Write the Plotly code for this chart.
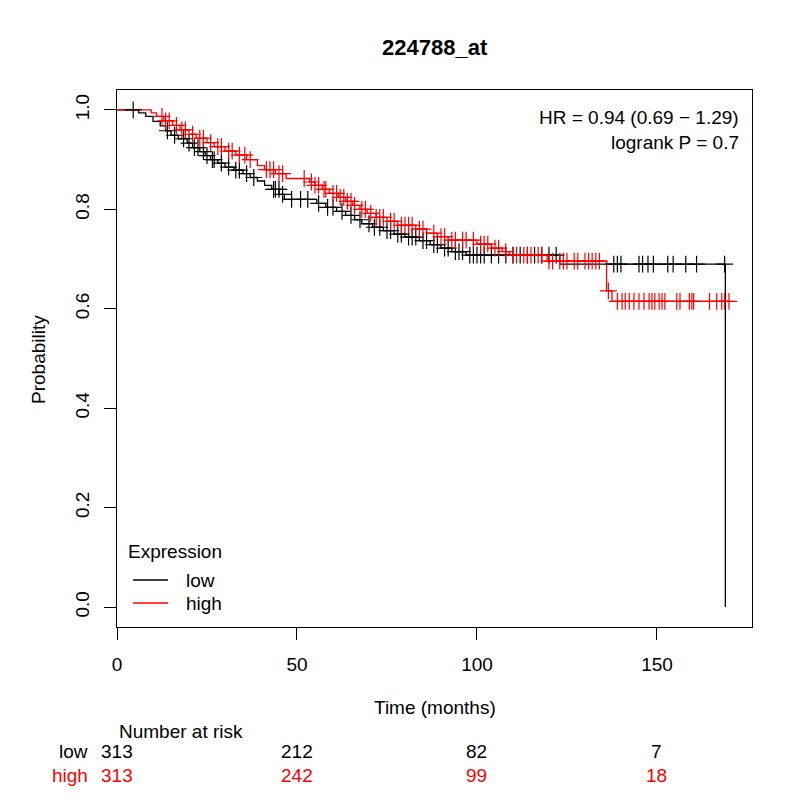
import numpy as np
import plotly.graph_objects as go

# Kaplan-Meier steps (time in months, survival after the step)
low_time = [6.0, 8.0, 10.0, 12.0, 13.5, 15.0, 17.0, 19.5, 21.0, 23.0, 24.5, 26.0, 28.0,
            30.0, 32.5, 35.0, 37.0, 39.0, 41.0, 43.0, 45.0, 46.5, 55.5, 58.0, 61.0,
            63.5, 66.0, 68.0, 71.0, 74.0, 77.0, 80.0, 84.0, 87.0, 90.0, 93.0, 97.0,
            123.0, 169.0]
low_surv = [0.994, 0.987, 0.977, 0.968, 0.958, 0.949, 0.942, 0.933, 0.924, 0.916, 0.908,
            0.900, 0.893, 0.885, 0.879, 0.872, 0.864, 0.857, 0.848, 0.840, 0.830, 0.820,
            0.812, 0.804, 0.796, 0.788, 0.779, 0.771, 0.764, 0.757, 0.750, 0.744, 0.737,
            0.729, 0.722, 0.715, 0.708, 0.690, 0.0]
low_censor = [4.5, 14, 16, 18.5, 20, 21.5, 22.5, 24, 25, 26.5, 27, 29, 31, 33, 34, 36, 38,
              43.5, 44, 45, 46, 48.5, 51, 53, 56, 58.5, 60, 62.5, 65, 67.5, 70, 71.5, 73,
              75, 76, 78, 79, 81, 82, 83, 85, 86, 88, 89, 91, 92, 94, 95, 96, 98, 99, 100,
              101, 102, 104, 106, 108, 110, 112, 114, 116, 118, 120, 122, 138, 139, 140,
              145, 146, 147.5, 149, 153, 154.5, 158, 161, 168.8]

high_time = [9.5, 11.0, 13.0, 15.5, 17.5, 20.0, 22.0, 25.0, 27.0, 30.0, 33.0, 36.0, 39.0,
             41.0, 44.0, 47.0, 53.5, 55.0, 57.0, 59.0, 61.5, 63.5, 65.5, 67.5, 69.5, 72.0,
             75.0, 78.0, 83.0, 86.0, 89.0, 92.0, 100.0, 104.0, 107.0, 109.0, 119.5, 136.0,
             137.5]
high_surv = [0.994, 0.987, 0.978, 0.969, 0.960, 0.951, 0.943, 0.934, 0.926, 0.917, 0.909,
             0.900, 0.888, 0.880, 0.872, 0.862, 0.855, 0.848, 0.840, 0.832, 0.824, 0.816,
             0.808, 0.800, 0.792, 0.784, 0.776, 0.768, 0.760, 0.752, 0.745, 0.738, 0.730,
             0.722, 0.715, 0.708, 0.696, 0.636, 0.615]
high_censor = [12.5, 13.5, 14.5, 16.5, 18, 19, 21, 23, 24, 26, 28, 29, 31, 32, 34, 35.5, 37,
               41.5, 42.5, 43.5, 45, 46, 52, 54, 55, 56, 57.5, 58, 60, 61, 62, 63, 64, 65,
               66, 68, 69, 70.5, 72, 73, 74, 76, 77, 79, 80, 81, 82, 84, 85, 88, 90, 91, 93,
               94, 96, 97, 99, 101, 102, 103, 105, 106, 108, 110, 111, 113, 114, 115, 117,
               118, 120, 121, 123, 124, 125, 127, 128, 130, 131, 132, 133, 134, 136.5, 139,
               140.3, 141.2, 142.3, 143.6, 145, 146.4, 147.8, 148.6, 149.4, 150.6, 151.4,
               152.2, 155.5, 156.4, 159, 159.7, 160.2, 164.6, 166.6, 168, 168.8, 170]
high_end = 170.0

risk_times = [0, 50, 100, 150]
risk_low = [313, 212, 82, 7]
risk_high = [313, 242, 99, 18]

groups = ["low", "high"]
title = "224788_at"
hr_text = ["HR = 0.94 (0.69 \u2212 1.29)", "logrank P = 0.7"]

BLACK = "black"
RED = "#FF0000"
FONT = "Liberation Sans, Arial, sans-serif"
FS = 19


def surv_at(times, surv, t):
    # survival just after time t on the step curve
    idx = np.searchsorted(np.array(times), t, side="right") - 1
    s = np.where(idx >= 0, np.array(surv)[np.clip(idx, 0, None)], 1.0)
    return s


# the page puts the figure 8px in from the window edge; these map window pixels
# to paper coords for a plot area spanning rows 90..627 and columns 117..752
def px_y(y):
    return (627 - y) / 537


def px_x(x):
    return (x - 117) / 635


fig = go.Figure()

# curves
fig.add_trace(go.Scatter(
    x=[0] + low_time, y=[1.0] + low_surv, mode="lines", line_shape="hv",
    line=dict(color=BLACK, width=1.3), name="low"))
fig.add_trace(go.Scatter(
    x=[0] + high_time + [high_end], y=[1.0] + high_surv + [high_surv[-1]],
    mode="lines", line_shape="hv", line=dict(color=RED, width=1.3), name="high"))

# censor marks
low_cy = [float(surv_at(low_time, low_surv, t - 1e-6)) for t in low_censor]
high_cy = [float(surv_at(high_time, high_surv, t)) for t in high_censor]
fig.add_trace(go.Scatter(
    x=low_censor, y=low_cy, mode="markers",
    marker=dict(symbol="cross-thin", size=12, line=dict(color=BLACK, width=1.2))))
fig.add_trace(go.Scatter(
    x=high_censor, y=high_cy, mode="markers",
    marker=dict(symbol="cross-thin", size=12, line=dict(color=RED, width=1.2))))

annotations = []
annotations.append(dict(text="<b>%s</b>" % title, x=0.5, y=px_y(47), xref="paper", yref="paper",
                        showarrow=False, font=dict(size=22), xanchor="center", yanchor="middle"))
for i, t in enumerate(hr_text):
    annotations.append(dict(text=t, x=px_x(741), y=px_y(118 + 24 * i), xref="paper", yref="paper",
                            showarrow=False, font=dict(size=FS), xanchor="right", yanchor="middle"))
annotations.append(dict(text="Time (months)", x=0.5, y=px_y(707), xref="paper", yref="paper",
                        showarrow=False, font=dict(size=FS), xanchor="center", yanchor="middle"))
annotations.append(dict(text="Probability", x=px_x(38), y=px_y(360), xref="paper", yref="paper",
                        showarrow=False, font=dict(size=FS), textangle=-90,
                        xanchor="center", yanchor="middle"))
annotations.append(dict(text="Number at risk", x=0, y=px_y(731), xref="x", yref="paper",
                        showarrow=False, font=dict(size=FS), xanchor="left", yanchor="middle"))
for name, counts, color, row in [("low", risk_low, BLACK, 751), ("high", risk_high, RED, 775)]:
    annotations.append(dict(text=name, x=px_x(90), y=px_y(row), xref="paper", yref="paper",
                            showarrow=False, font=dict(size=FS, color=color),
                            xanchor="right", yanchor="middle"))
    for t, n in zip(risk_times, counts):
        annotations.append(dict(text=str(n), x=t, y=px_y(row), xref="x", yref="paper",
                                showarrow=False, font=dict(size=FS, color=color),
                                xanchor="center", yanchor="middle"))

# legend drawn by hand to match the base-R legend box
shapes = []
annotations.append(dict(text="Expression", x=px_x(126), y=px_y(551), xref="paper", yref="paper",
                        showarrow=False, font=dict(size=FS), xanchor="left", yanchor="middle"))
for name, color, row in zip(groups, [BLACK, RED], [580, 603]):
    shapes.append(dict(type="line", xref="paper", yref="paper", x0=px_x(133), x1=px_x(168),
                       y0=px_y(row), y1=px_y(row), line=dict(color=color, width=1.3)))
    annotations.append(dict(text=name, x=px_x(184), y=px_y(row), xref="paper", yref="paper",
                            showarrow=False, font=dict(size=FS), xanchor="left", yanchor="middle"))

fig.update_layout(
    width=800, height=800,
    margin=dict(l=109, r=56, t=82, b=181),
    paper_bgcolor="white", plot_bgcolor="white",
    font=dict(family=FONT, size=FS, color="black"),
    annotations=annotations,
    shapes=shapes,
    showlegend=False,
)
fig.update_xaxes(range=[0, 176.4], tickvals=[0, 50, 100, 150], ticks="outside", ticklen=12,
                 tickcolor="black", showline=True, mirror=True, linecolor="black", linewidth=1,
                 showgrid=False, zeroline=False, tickfont=dict(size=FS), ticklabelstandoff=8)
fig.update_yaxes(range=[-0.04, 1.04], tickvals=[0, 0.2, 0.4, 0.6, 0.8, 1.0],
                 ticktext=["0.0", "0.2", "0.4", "0.6", "0.8", "1.0"], tickangle=-90,
                 ticks="outside", ticklen=12, tickcolor="black", showline=True, mirror=True,
                 linecolor="black", linewidth=1, showgrid=False, zeroline=False,
                 tickfont=dict(size=FS), ticklabelstandoff=7)

fig.write_html("out.html")
